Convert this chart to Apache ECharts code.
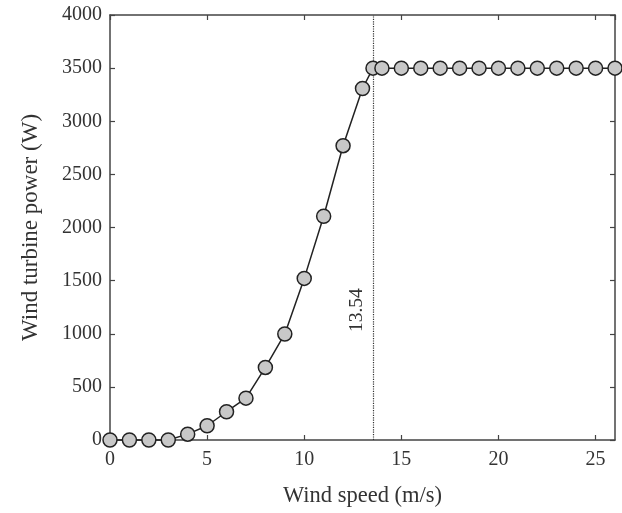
<!DOCTYPE html>
<html><head><meta charset="utf-8">
<script src="https://cdn.jsdelivr.net/npm/echarts@6/dist/echarts.min.js"></script>
<style>html,body{margin:0;padding:0;background:#fff}#c{width:622px;height:513px}</style>
</head><body><div id="c"></div>
<script>
const windSpeed = [0,1,2,3,4,5,6,7,8,9,10,11,12,13,13.54,14,15,16,17,18,19,20,21,22,23,24,25,26];
const power = [0,0,0,0,55,134,266,394,683,998,1521,2106,2770,3308,3500,3500,3500,3500,3500,3500,3500,3500,3500,3500,3500,3500,3500,3500];
const ratedSpeed = 13.54;
const ratedLabel = '13.54';
const xTitle = 'Wind speed (m/s)';
const yTitle = 'Wind turbine power (W)';

const font = 'Liberation Serif';
const axisCol = '#444';
const txtCol = '#333';
const chart = echarts.init(document.getElementById('c'));
function common(){
  return {
    axisLine:{show:true,onZero:false,lineStyle:{color:axisCol,width:1.5}},
    axisTick:{show:true,inside:true,length:5,lineStyle:{color:axisCol,width:1.2}},
    splitLine:{show:false}
  };
}
chart.setOption({
  animation:false,
  backgroundColor:'#fff',
  grid:{left:110,right:7,top:15,bottom:72},
  xAxis:[
    Object.assign({type:'value',min:0,max:26,interval:5,position:'bottom',
      name:xTitle,nameLocation:'middle',nameGap:45,
      nameTextStyle:{fontFamily:font,fontSize:22.5,color:txtCol},
      axisLabel:{fontFamily:font,fontSize:20,color:txtCol,margin:10,showMaxLabel:false}},common()),
    Object.assign({type:'value',min:0,max:26,interval:5,position:'top',axisLabel:{show:false}},common())
  ],
  yAxis:[
    Object.assign({type:'value',min:0,max:4000,interval:500,position:'left',
      name:yTitle,nameLocation:'middle',nameGap:68,nameRotate:90,
      nameTextStyle:{fontFamily:font,fontSize:23,color:txtCol},
      axisLabel:{fontFamily:font,fontSize:20,color:txtCol,margin:8,formatter:v=>String(v)}},common()),
    Object.assign({type:'value',min:0,max:4000,interval:500,position:'right',axisLabel:{show:false}},common())
  ],
  series:[{
    type:'line',
    data:windSpeed.map((x,i)=>[x,power[i]]),
    symbol:'circle',symbolSize:14,showAllSymbol:true,clip:false,
    lineStyle:{color:'#222',width:1.5},
    itemStyle:{color:'#c8c8c8',borderColor:'#222',borderWidth:1.5},
    z:3,
    markLine:{
      silent:true,symbol:['none','none'],
      lineStyle:{type:'dotted',color:'#333',width:1.2},
      label:{show:true,formatter:ratedLabel,position:'insideStartTop',distance:[108,6],
        fontFamily:font,fontSize:19.5,color:txtCol},
      data:[{xAxis:ratedSpeed}],
      z:2
    }
  }]
});
</script></body></html>
